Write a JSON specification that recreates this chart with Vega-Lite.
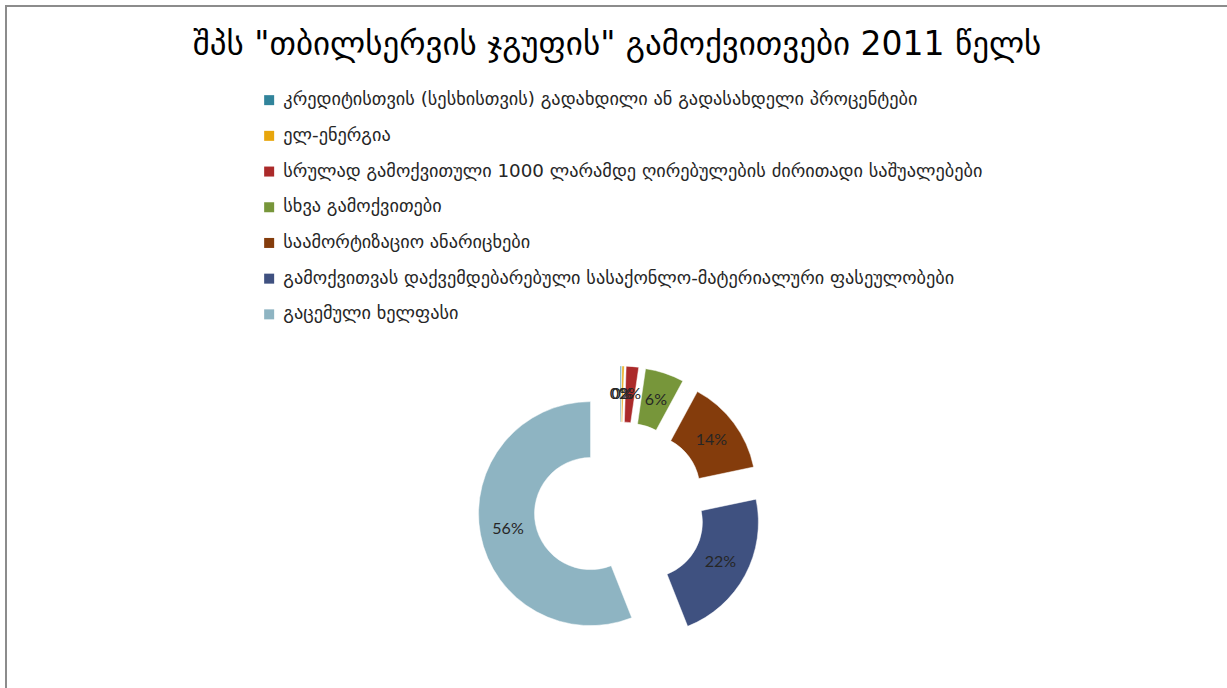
{
  "$schema": "https://vega.github.io/schema/vega-lite/v6.json",
  "width": 1228,
  "height": 1004,
  "autosize": {"type": "none"},
  "padding": {"left": 6, "top": 6, "right": -7, "bottom": -322},
  "background": "white",
  "view": {"stroke": "#8c8c8c", "strokeWidth": 2},
  "title": {
    "text": "შპს \"თბილსერვის ჯგუფის\" გამოქვითვები 2011 წელს",
    "frame": "group",
    "anchor": "middle",
    "orient": "top",
    "offset": -56,
    "baseline": "alphabetic",
    "dx": -3,
    "dy": 26,
    "font": "DejaVu Sans",
    "fontSize": 33,
    "fontWeight": "normal",
    "color": "#000000"
  },
  "data": {
    "values": [
      {"ord": 1, "category": "კრედიტისთვის (სესხისთვის) გადახდილი ან გადასახდელი პროცენტები", "share": 0.002},
      {"ord": 2, "category": "ელ-ენერგია", "share": 0.003},
      {"ord": 3, "category": "სრულად გამოქვითული 1000 ლარამდე ღირებულების ძირითადი საშუალებები", "share": 0.018},
      {"ord": 4, "category": "სხვა გამოქვითები", "share": 0.056},
      {"ord": 5, "category": "საამორტიზაციო ანარიცხები", "share": 0.138},
      {"ord": 6, "category": "გამოქვითვას დაქვემდებარებული სასაქონლო-მატერიალური ფასეულობები", "share": 0.223},
      {"ord": 7, "category": "გაცემული ხელფასი", "share": 0.560}
    ]
  },
  "encoding": {
    "theta": {"field": "share", "type": "quantitative", "stack": true},
    "order": {"field": "ord", "type": "quantitative"}
  },
  "layer": [
    {
      "mark": {
        "type": "arc",
        "radius": 112,
        "radius2": 56,
        "stroke": "white",
        "strokeWidth": 0.5,
        "xOffset": {"expr": "30*sin((scale('theta', datum.share_start)+scale('theta', datum.share_end))/2)"},
        "yOffset": {"expr": "-30*cos((scale('theta', datum.share_start)+scale('theta', datum.share_end))/2)"}
      },
      "encoding": {
        "color": {
          "field": "category",
          "type": "nominal",
          "sort": null,
          "scale": {
            "domain": [
              "კრედიტისთვის (სესხისთვის) გადახდილი ან გადასახდელი პროცენტები",
              "ელ-ენერგია",
              "სრულად გამოქვითული 1000 ლარამდე ღირებულების ძირითადი საშუალებები",
              "სხვა გამოქვითები",
              "საამორტიზაციო ანარიცხები",
              "გამოქვითვას დაქვემდებარებული სასაქონლო-მატერიალური ფასეულობები",
              "გაცემული ხელფასი"
            ],
            "range": ["#31849B", "#E8A60C", "#AB2A2A", "#77963A", "#843C0C", "#3F5180", "#8EB4C2"]
          },
          "legend": {
            "title": null,
            "orient": "none",
            "legendX": 254,
            "legendY": 85,
            "padding": 0,
            "symbolType": "square",
            "symbolSize": 100,
            "symbolStrokeWidth": 0,
            "labelFont": "DejaVu Sans",
            "labelFontSize": 18.3,
            "labelColor": "#262626",
            "labelLimit": 0,
            "labelOffset": 5,
            "rowPadding": 16.7
          }
        }
      }
    },
    {
      "mark": {
        "type": "text",
        "radius": 84,
        "font": "Lato",
        "fontSize": 16,
        "color": "#262626",
        "xOffset": {"expr": "30*sin((scale('theta', datum.share_start)+scale('theta', datum.share_end))/2)"},
        "yOffset": {"expr": "-30*cos((scale('theta', datum.share_start)+scale('theta', datum.share_end))/2)"}
      },
      "encoding": {
        "text": {"field": "share", "type": "quantitative", "format": ".0%"}
      }
    }
  ]
}
